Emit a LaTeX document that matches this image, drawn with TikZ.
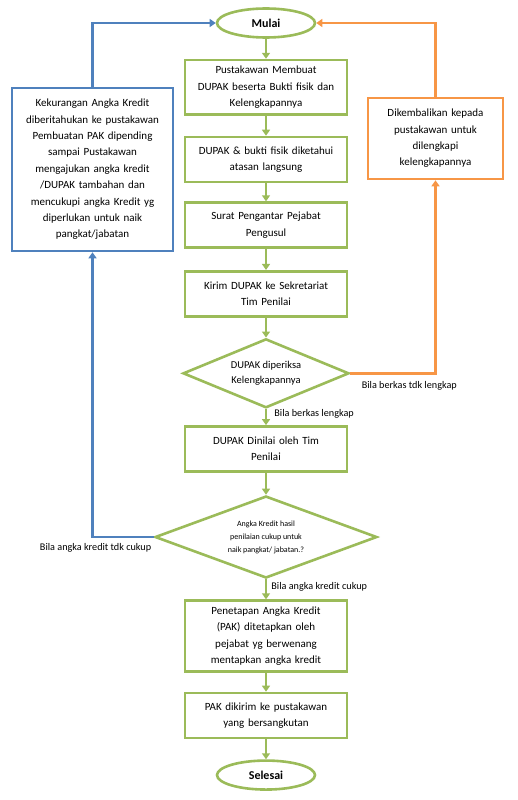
\documentclass[tikz,border=0pt]{standalone}
\usepackage{fontspec}
\setmainfont{Carlito}
\usetikzlibrary{positioning,shapes.geometric,arrows.meta}
\definecolor{hijau}{HTML}{9BBB59}
\definecolor{biru}{HTML}{4F81BD}
\definecolor{oranye}{HTML}{F79646}
\begin{document}
\begin{tikzpicture}
                    [x=1pt, y=-1pt,
                    terminal/.style={ellipse,
                        minimum width=98pt, minimum height=29pt,
                        draw=hijau, line width=2.6pt,
                        font=\fontsize{12}{14}\selectfont\bfseries},
                    proses/.style={rectangle,
                        text width=150pt, align=center,
                        minimum height=45pt, inner sep=6pt,
                        draw=hijau, line width=2.6pt,
                        font=\fontsize{11}{16.4}\selectfont},
                    cek/.style={diamond, inner sep=0pt,
                        align=center,
                        draw=hijau, line width=2.6pt},
                    sisi/.style={rectangle, align=center,
                        inner sep=6pt, line width=2.6pt,
                        font=\fontsize{11}{16.4}\selectfont},
                    label/.style={font=\fontsize{10.2}{12}\selectfont},
                    alur/.style={draw=hijau, line width=2.2pt,
                        -{Triangle[width=8pt,length=6pt]}},
                    balik/.style={line width=2.6pt,
                        -{Triangle[width=8pt,length=6pt]}},
                    node distance=20pt]
                    \useasboundingbox (0,0) rectangle (518,800);

                    \node[terminal] (mulai) at (266,23)
                        {Mulai};
                    \node[proses, below=20pt of mulai]
                        (buat) {Pustakawan Membuat\\DUPAK beserta Bukti fisik dan\\Kelengkapannya};
                    \node[proses, below=of buat]
                        (atasan) {DUPAK \& bukti fisik diketahui\\atasan langsung};
                    \node[proses, below=18pt of atasan]
                        (surat) {Surat Pengantar Pejabat\\Pengusul};
                    \node[proses, below=21pt of surat]
                        (kirim) {Kirim DUPAK ke Sekretariat\\Tim Penilai};
                    \node[cek, below=of kirim, aspect=2.4,
                        minimum width=166pt, minimum height=69pt,
                        font=\fontsize{10.5}{15}\selectfont]
                        (periksa) {DUPAK diperiksa\\Kelengkapannya};
                    \node[proses, below=16pt of periksa]
                        (nilai) {DUPAK Dinilai oleh Tim\\Penilai};
                    \node[cek, below=22pt of nilai, aspect=2.7,
                        minimum width=222pt, minimum height=82pt,
                        font=\fontsize{8}{13}\selectfont]
                        (cukup) {Angka Kredit hasil\\penilaian cukup untuk\\naik pangkat/ jabatan.?};
                    \node[proses, below=20pt of cukup]
                        (tetap) {Penetapan Angka Kredit\\(PAK) ditetapkan oleh\\pejabat yg berwenang\\mentapkan angka kredit};
                    \node[proses, below=19pt of tetap]
                        (hasil) {PAK dikirim ke pustakawan\\yang bersangkutan};
                    \node[terminal, below=of hasil]
                        (selesai) {Selesai};

                    % kotak samping
                    \node[sisi, draw=biru, text width=149pt, minimum height=163pt]
                        (kurang) at (92.5,169.5) {Kekurangan Angka Kredit\\diberitahukan ke pustakawan\\Pembuatan PAK dipending\\sampai Pustakawan\\mengajukan angka kredit\\/DUPAK tambahan dan\\mencukupi angka Kredit yg\\diperlukan untuk naik\\pangkat/jabatan};
                    \node[sisi, draw=oranye, text width=123pt, minimum height=81pt]
                        (kembali) at (435.5,138.5) {Dikembalikan kepada\\pustakawan untuk\\dilengkapi\\kelengkapannya};

                    % alur utama
                    \draw[alur] (mulai) -- (buat);
                    \draw[alur] (buat) -- (atasan);
                    \draw[alur] (atasan) -- (surat);
                    \draw[alur] (surat) -- (kirim);
                    \draw[alur] (kirim) -- (periksa);
                    \draw[alur] (periksa) -- node[label, anchor=west, xshift=4pt, pos=0.3] {Bila berkas lengkap} (nilai);
                    \draw[alur] (nilai) -- (cukup);
                    \draw[alur] (cukup) -- node[label, anchor=west, xshift=1pt, pos=0.38] {Bila angka kredit cukup} (tetap);
                    \draw[alur] (tetap) -- (hasil);
                    \draw[alur] (hasil) -- (selesai);

                    % alur balik
                    \draw[balik, draw=oranye] (periksa.east) -| (kembali.south);
                    \draw[balik, draw=oranye] (kembali.north) |- (mulai.east);
                    \draw[balik, draw=biru] (cukup.west) -| (kurang.south);
                    \draw[balik, draw=biru] (kurang.north) |- (mulai.west);
                    \node[label, anchor=west] (tdklengkap) at ([xshift=8pt,yshift=-13pt]periksa.east) {Bila berkas tdk lengkap};
                    \node[label, anchor=east] (tdkcukup) at ([xshift=1pt,yshift=-11pt]cukup.west) {Bila angka kredit tdk cukup};
                \end{tikzpicture}
\end{document}
